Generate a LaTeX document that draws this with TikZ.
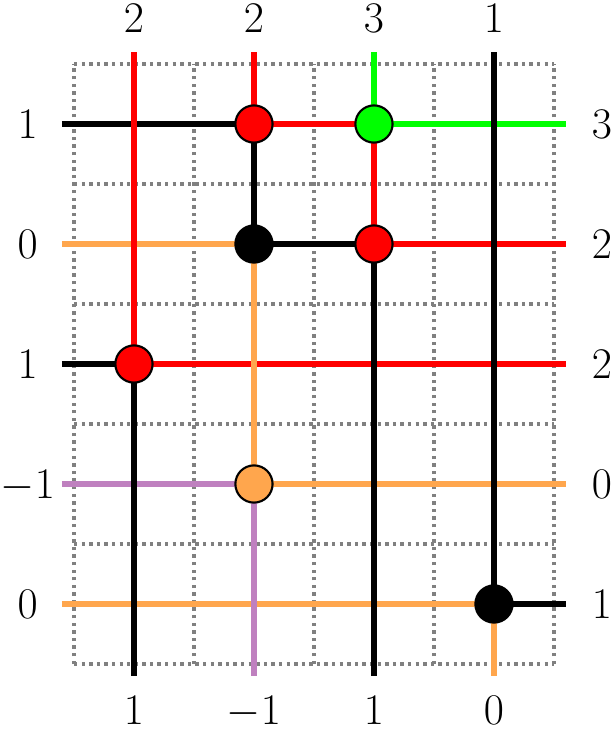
\documentclass[tikz,border=0pt]{standalone}
\usetikzlibrary{calc}
\definecolor{wred}{RGB}{255,0,0}
\definecolor{wgreen}{RGB}{0,255,0}
\definecolor{worange}{RGB}{255,166,77}
\definecolor{wpurple}{RGB}{191,128,191}
\tikzset{
  gridline/.style={gray, line width=1.6pt, dotted},
  wire/.style={line width=2.4pt},
  dot/.style={circle, draw=black, line width=1pt, inner sep=0pt, minimum size=0.62cm},
  lab/.style={font=\fontsize{20}{24}\selectfont, text depth=0pt, inner sep=0pt}
}
\begin{document}
\begin{tikzpicture}
\useasboundingbox (-1.233,-1.1) rectangle (9.0,11.067);
\draw[gridline] (0,0) grid[step=2] (8,10);

% free ends
\foreach \i/\x in {1/1,2/3,3/5,4/7}{
  \coordinate (t\i) at (\x,10.2);
  \coordinate (b\i) at (\x,-0.2);
}
\foreach \i/\y in {1/9,2/7,3/5,4/3,5/1}{
  \coordinate (l\i) at (-0.2,\y);
  \coordinate (r\i) at (8.2,\y);
}
% node positions
\coordinate (n15) at (1,5);
\coordinate (n39) at (3,9);
\coordinate (n37) at (3,7);
\coordinate (n33) at (3,3);
\coordinate (n59) at (5,9);
\coordinate (n57) at (5,7);
\coordinate (n71) at (7,1);

% horizontal wires
\draw[wire, black] (l1) -- (n39);
\draw[wire, wred] (n39) -- (n59);
\draw[wire, wgreen] (n59) -- (r1);
\draw[wire, worange] (l2) -- (n37);
\draw[wire, black] (n37) -- (n57);
\draw[wire, wred] (n57) -- (r2);
\draw[wire, black] (l3) -- (n15);
\draw[wire, wred] (n15) -- (r3);
\draw[wire, wpurple] (l4) -- (n33);
\draw[wire, worange] (n33) -- (r4);
\draw[wire, worange] (l5) -- (n71);
\draw[wire, black] (n71) -- (r5);

% vertical wires
\draw[wire, wred] (t1) -- (n15);
\draw[wire, black] (n15) -- (b1);
\draw[wire, wred] (t2) -- (n39);
\draw[wire, black] (n39) -- (n37);
\draw[wire, worange] (n37) -- (n33);
\draw[wire, wpurple] (n33) -- (b2);
\draw[wire, wgreen] (t3) -- (n59);
\draw[wire, wred] (n59) -- (n57);
\draw[wire, black] (n57) -- (b3);
\draw[wire, black] (t4) -- (n71);
\draw[wire, worange] (n71) -- (b4);

% nodes
\node[dot, fill=wred] (c15) at (n15) {};
\node[dot, fill=wred] (c39) at (n39) {};
\node[dot, fill=black] (c37) at (n37) {};
\node[dot, fill=worange] (c33) at (n33) {};
\node[dot, fill=wgreen] (c59) at (n59) {};
\node[dot, fill=wred] (c57) at (n57) {};
\node[dot, fill=black] (c71) at (n71) {};

% labels
\node[lab] (tl1) at (1,10.76) {$2$};
\node[lab] (tl2) at (3,10.76) {$2$};
\node[lab] (tl3) at (5,10.76) {$3$};
\node[lab] (tl4) at (7,10.76) {$1$};
\node[lab] (bl1) at (1,-0.77) {$1$};
\node[lab] (bl2) at (3,-0.77) {$-1$};
\node[lab] (bl3) at (5,-0.77) {$1$};
\node[lab] (bl4) at (7,-0.77) {$0$};
\node[lab] (ll1) at (-0.77,9) {$1$};
\node[lab] (ll2) at (-0.77,7) {$0$};
\node[lab] (ll3) at (-0.77,5) {$1$};
\node[lab] (ll4) at (-0.77,3) {$-1$};
\node[lab] (ll5) at (-0.77,1) {$0$};
\node[lab] (rl1) at (8.8,9) {$3$};
\node[lab] (rl2) at (8.8,7) {$2$};
\node[lab] (rl3) at (8.8,5) {$2$};
\node[lab] (rl4) at (8.8,3) {$0$};
\node[lab] (rl5) at (8.8,1) {$1$};
\end{tikzpicture}
\end{document}
